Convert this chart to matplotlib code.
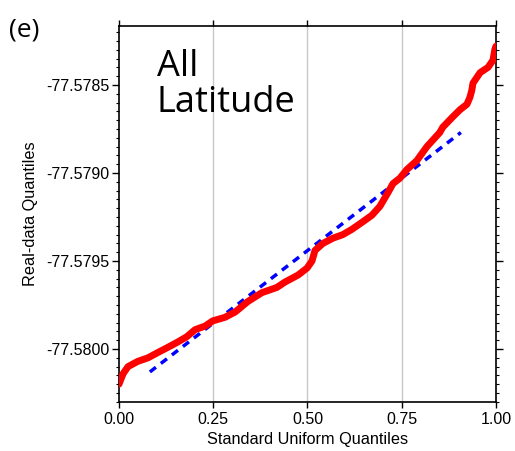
import matplotlib
matplotlib.use("Agg")
import matplotlib.pyplot as plt
from matplotlib.ticker import MultipleLocator, FormatStrFormatter

# Red quantile curve (standard uniform quantile, real-data quantile)
uq = [0.000, 0.011, 0.024, 0.050, 0.077, 0.103, 0.130, 0.156, 0.180, 0.202,
      0.228, 0.249, 0.281, 0.308, 0.342, 0.379, 0.419, 0.440, 0.475, 0.499,
      0.512, 0.520, 0.541, 0.568, 0.594, 0.618, 0.645, 0.671, 0.692, 0.714,
      0.727, 0.745, 0.764, 0.790, 0.817, 0.851, 0.859, 0.886, 0.905, 0.923,
      0.931, 0.936, 0.939, 0.958, 0.979, 0.992, 0.997, 1.000]
rq = [-77.58020, -77.58014, -77.58010, -77.58007, -77.58005, -77.58002,
      -77.57999, -77.57996, -77.57993, -77.57989, -77.57987, -77.57984,
      -77.57982, -77.57979, -77.57973, -77.57968, -77.57965, -77.57962,
      -77.57958, -77.57954, -77.57950, -77.57944, -77.57940, -77.57937,
      -77.57935, -77.57932, -77.57928, -77.57924, -77.57919, -77.57911,
      -77.57906, -77.57903, -77.57898, -77.57893, -77.57885, -77.57877,
      -77.57874, -77.57868, -77.57864, -77.57861, -77.57857, -77.57853,
      -77.57849, -77.57843, -77.57840, -77.57836, -77.57830, -77.57828]

# Blue reference line
ref_x = [0.082, 0.907]
ref_y = [-77.58013, -77.57877]

x_ticks = [0.0, 0.25, 0.5, 0.75, 1.0]
x_ticklabels = ["0.00", "0.25", "0.50", "0.75", "1.00"]
y_ticks = [-77.5800, -77.5795, -77.5790, -77.5785]

fig = plt.figure(figsize=(5.15, 4.51), dpi=100)
ax = fig.add_axes([0.231, 0.1086, 0.732, 0.8338])

tick_font = "Liberation Sans"

for xv in x_ticks[1:-1]:
    ax.axvline(xv, color="#c8c8c8", lw=1.0, zorder=0)

ax.plot(ref_x, ref_y, color="#0000ff", lw=2.5, ls=(0, (2.2, 1.8)), zorder=2)
ax.plot(uq, rq, color="#ff0000", lw=5, solid_capstyle="round",
        solid_joinstyle="round", zorder=3)

ax.set_xlim(0, 1)
ax.set_ylim(-77.580301, -77.578165)

ax.set_xticks(x_ticks)
ax.set_xticklabels(x_ticklabels)
ax.set_yticks(y_ticks)
ax.yaxis.set_major_formatter(FormatStrFormatter("%.4f"))
ax.yaxis.set_minor_locator(MultipleLocator(0.00005))

ax.tick_params(axis="x", which="major", direction="out", length=4, width=1,
               top=True, bottom=True, labelsize=11.5, pad=3)
ax.tick_params(axis="y", which="major", direction="out", length=5, width=1,
               left=True, right=True, labelsize=11.5, pad=2)
ax.tick_params(axis="y", which="minor", direction="out", length=2.5, width=0.8,
               left=True, right=True)
for lab in ax.get_xticklabels() + ax.get_yticklabels():
    lab.set_fontfamily(tick_font)

for sp in ax.spines.values():
    sp.set_linewidth(1.2)
    sp.set_color("black")

ax.set_xlabel("Standard Uniform Quantiles", fontsize=11.7, family=tick_font, labelpad=4)
ax.set_ylabel("Real-data Quantiles", fontsize=11.7, family=tick_font, labelpad=6)

ax.text(0.10, 0.94, "All\nLatitude", transform=ax.transAxes, fontsize=26,
        family="Open Sans", va="top", ha="left", linespacing=1.0)
fig.text(0.018, 0.933, "(e)", fontsize=19, family="Open Sans", va="center", ha="left")

fig.savefig("out.png", dpi=100)
